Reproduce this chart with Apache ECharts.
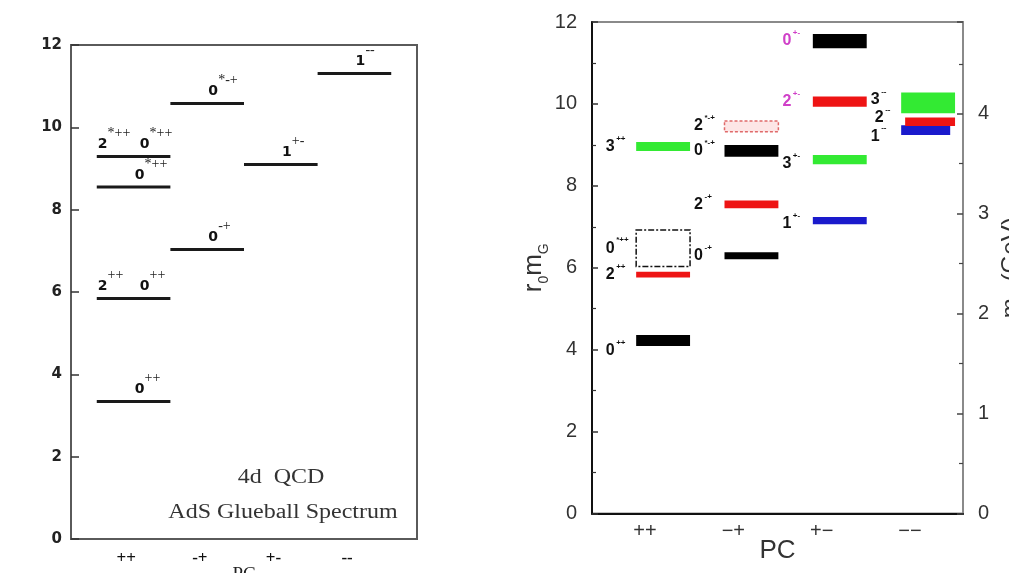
<!DOCTYPE html>
<html><head><meta charset="utf-8">
<script src="https://cdn.jsdelivr.net/npm/echarts@6/dist/echarts.min.js"></script>
<style>html,body{margin:0;padding:0;background:#fff}#c{width:1009px;height:573px}</style>
</head><body><div id="c"></div>
<script>
// ---------- data ----------
const pcCategories = ['++', '-+', '+-', '--'];
const leftTickLabels = ['++', '-+', '+-', '--'];
const rightTickLabels = ['++', '\u2212+', '+\u2212', '\u2212\u2212'];

// AdS glueball spectrum (left panel)
const adsColumn = ['++', '++', '++', '++', '-+', '-+', '+-', '--'];
const adsMass = [3.34, 5.84, 8.55, 9.29, 7.03, 10.58, 9.10, 11.31];
const adsStates = [['0^++'], ['2^++', '0^++'], ['0^*++'], ['2^*++', '0^*++'], ['0^-+'], ['0^*-+'], ['1^+-'], ['1^--']];

// Lattice glueball spectrum (right panel), r0*mG ranges
const latticeColumn = ['++', '++', '++', '++', '-+', '-+', '-+', '-+', '+-', '+-', '+-', '+-', '--', '--', '--'];
const latticeLow  = [4.09, 5.76, 6.03, 8.85, 6.21, 7.45, 8.71, 9.32, 7.06, 8.53, 9.93, 11.36, 9.24, 9.46, 9.77];
const latticeHigh = [4.36, 5.90, 6.92, 9.07, 6.38, 7.64, 9.00, 9.58, 7.24, 8.75, 10.18, 11.71, 9.48, 9.67, 10.28];
const latticeState = ['0^++', '2^++', '0^*++', '3^++', '0^-+', '2^-+', '0^*-+', '2^*-+', '1^+-', '3^+-', '2^+-', '0^+-', '1^--', '2^--', '3^--'];

const r0PerGeV = 2.44; // r0*m per GeV (right axis conversion)

// ---------- styles ----------
const jColor = { '0': '#000000', '1': '#1a1acc', '2': '#ee1414', '3': '#33ea33' };
const specialBox = {
  '0^*++': { fill: 'none', stroke: '#111', lineDash: [6, 2, 2, 2], lineWidth: 1.5 },
  '2^*-+': { fill: '#fde6e6', stroke: '#e06a6a', lineDash: [3, 2], lineWidth: 1.5 }
};
const labelColor = { '2^+-': '#d040c8', '0^+-': '#d040c8' };
const labelDy = { '0^++': 10, '3^+-': 4, '1^+-': 3, '3^--': -3, '2^--': -4, '1^--': 6, '2^*-+': -1 };
const insetL = { '2^--': 0.045 };
const insetR = { '1^--': 0.055 };

// ---------- render ----------
function renderAds(params, api) {
  const col = api.value(0), m = api.value(1), idx = api.value(2);
  const a = api.coord([col - 0.4, m]);
  const b = api.coord([col + 0.6, m]);
  const cx = (a[0] + b[0]) / 2;
  const children = [{
    type: 'line', shape: { x1: a[0], y1: a[1], x2: b[0], y2: a[1] },
    style: { stroke: '#1a1a1a', lineWidth: 3 }
  }];
  const states = adsStates[idx];
  const dxs = states.length === 1 ? [6] : [-31, 11];
  states.forEach((s, k) => {
    const parts = s.split('^');
    const x = cx + dxs[k], y = a[1] - 12;
    children.push({ type: 'text', style: { text: parts[0], x: x, y: y, align: 'center', verticalAlign: 'middle', font: 'bold 14px "DejaVu Sans"', fill: '#111' } });
    children.push({ type: 'text', style: { text: parts[1], x: x + 5, y: y - 11, align: 'left', verticalAlign: 'middle', font: '14px "Liberation Serif"', fill: '#222' } });
  });
  return { type: 'group', children: children };
}

function renderLattice(params, api) {
  const col = api.value(0), lo = api.value(1), hi = api.value(2), idx = api.value(3);
  const st = latticeState[idx];
  const p1 = api.coord([col - 0.1 + (insetL[st] || 0), hi]);
  const p2 = api.coord([col + 0.51 - (insetR[st] || 0), lo]);
  const box = specialBox[st];
  const j = st.split('^')[0], pc = st.split('^')[1];
  const rectStyle = box
    ? { fill: box.fill, stroke: box.stroke, lineDash: box.lineDash, lineWidth: box.lineWidth }
    : { fill: jColor[j] };
  const cy = (p1[1] + p2[1]) / 2 + (labelDy[st] || 0);
  const lx = p1[0] - 26;
  const lc = labelColor[st] || '#111';
  return {
    type: 'group', children: [
      { type: 'rect', shape: { x: p1[0], y: p1[1], width: p2[0] - p1[0], height: p2[1] - p1[1] }, style: rectStyle },
      { type: 'text', style: { text: j, x: lx, y: cy, align: 'center', verticalAlign: 'middle', font: 'bold 16px "Liberation Sans"', fill: lc } },
      { type: 'text', style: { text: pc, x: lx + 6, y: cy - 8, align: 'left', verticalAlign: 'middle', font: 'bold 8px "Liberation Sans"', fill: lc } }
    ]
  };
}

const chart = echarts.init(document.getElementById('c'), null, { renderer: 'canvas' });
const colIndex = c => pcCategories.indexOf(c) + 1;

chart.setOption({
  animation: false,
  backgroundColor: '#fff',
  grid: [
    { left: 71, top: 45, width: 346, bottom: 34, containLabel: false, outerBoundsMode: 'none', show: true, borderColor: '#5a5a5a', borderWidth: 2 },
    { left: 592, top: 22, width: 371, bottom: 59.5, containLabel: false, outerBoundsMode: 'none', show: true, borderColor: '#8a8a8a', borderWidth: 2 }
  ],
  xAxis: [
    {
      gridIndex: 0, type: 'value', min: 0.25, max: 4.95,
      name: 'PC', nameLocation: 'middle', nameGap: 27, nameMoveOverlap: false,
      nameTextStyle: { fontFamily: 'Liberation Serif', fontSize: 19, color: '#222', verticalAlign: 'top' },
      axisLine: { lineStyle: { color: '#5a5a5a', width: 2 } },
      axisTick: { show: false }, splitLine: { show: false },
      axisLabel: {
        customValues: [1, 2, 3, 4], margin: 11,
        formatter: v => leftTickLabels[Math.round(v) - 1] || '',
        fontFamily: 'Liberation Serif', fontWeight: 'bold', fontSize: 17, color: '#111'
      }
    },
    {
      gridIndex: 1, type: 'value', min: 0.4, max: 4.6,
      name: 'PC', nameLocation: 'middle', nameGap: 24, nameMoveOverlap: false,
      nameTextStyle: { fontFamily: 'Liberation Sans', fontSize: 26, color: '#333', verticalAlign: 'top' },
      axisLine: { lineStyle: { color: '#111', width: 2 } },
      axisTick: { show: false }, splitLine: { show: false },
      axisLabel: {
        customValues: [1, 2, 3, 4], margin: 8,
        formatter: v => rightTickLabels[Math.round(v) - 1] || '',
        fontFamily: 'Liberation Sans', fontSize: 20, color: '#333'
      }
    }
  ],
  yAxis: [
    {
      gridIndex: 0, type: 'value', min: 0, max: 12, interval: 2,
      axisLine: { lineStyle: { color: '#5a5a5a', width: 2 } },
      axisTick: { inside: true, length: 8, lineStyle: { color: '#333', width: 1.5 } },
      splitLine: { show: false },
      axisLabel: { margin: 9, fontFamily: 'DejaVu Sans', fontWeight: 'bold', fontSize: 15, color: '#222' }
    },
    {
      gridIndex: 1, type: 'value', min: 0, max: 12, interval: 2,
      name: '{r|r}{s|0}{r|m}{s|G}', nameLocation: 'middle', nameGap: 44,
      nameTextStyle: {
        rich: {
          r: { fontFamily: 'Liberation Sans', fontSize: 26, color: '#333', lineHeight: 30, verticalAlign: 'bottom' },
          s: { fontFamily: 'Liberation Sans', fontSize: 14, color: '#333', lineHeight: 30, verticalAlign: 'bottom', padding: [0, 0, -4, 0] }
        }
      },
      axisLine: { lineStyle: { color: '#111', width: 2 } },
      axisTick: { inside: true, length: 6, lineStyle: { color: '#333', width: 1.5 } },
      minorTick: { show: true, splitNumber: 2, length: 4, lineStyle: { color: '#333', width: 1.2 } },
      splitLine: { show: false }, minorSplitLine: { show: false },
      axisLabel: { margin: 15, fontFamily: 'Liberation Sans', fontSize: 20, color: '#333' }
    },
    {
      gridIndex: 1, type: 'value', position: 'right', min: 0, max: 12 / r0PerGeV, interval: 1, alignTicks: false,
      name: '{r|m}{s|G}{r| (GeV)}', nameLocation: 'middle', nameGap: 32,
      nameTextStyle: {
        rich: {
          r: { fontFamily: 'Liberation Sans', fontSize: 24, color: '#333', lineHeight: 28, verticalAlign: 'bottom' },
          s: { fontFamily: 'Liberation Sans', fontSize: 13, color: '#333', lineHeight: 28, verticalAlign: 'bottom', padding: [0, 0, -4, 0] }
        }
      },
      axisLine: { lineStyle: { color: '#8a8a8a', width: 2 } },
      axisTick: { inside: true, length: 6, lineStyle: { color: '#444', width: 1.5 } },
      minorTick: { show: true, splitNumber: 2, length: 4, lineStyle: { color: '#444', width: 1.2 } },
      splitLine: { show: false }, minorSplitLine: { show: false },
      axisLabel: {
        margin: 15, fontFamily: 'Liberation Sans', fontSize: 20, color: '#333', showMaxLabel: false,
        formatter: v => (Math.abs(v - Math.round(v)) < 1e-6 ? String(Math.round(v)) : '')
      }
    }
  ],
  graphic: [
    { type: 'text', x: 281, y: 478, scaleX: 1.2, style: { text: '4d  QCD', x: 0, y: 0, align: 'center', verticalAlign: 'middle', font: '20px "Liberation Serif"', fill: '#333' } },
    { type: 'text', x: 283, y: 513, scaleX: 1.2, style: { text: 'AdS Glueball Spectrum', x: 0, y: 0, align: 'center', verticalAlign: 'middle', font: '20px "Liberation Serif"', fill: '#333' } }
  ],
  series: [
    {
      type: 'custom', xAxisIndex: 0, yAxisIndex: 0, renderItem: renderAds,
      data: adsColumn.map((c, i) => [colIndex(c), adsMass[i], i]), clip: false
    },
    {
      type: 'custom', xAxisIndex: 1, yAxisIndex: 1, renderItem: renderLattice,
      data: latticeColumn.map((c, i) => [colIndex(c), latticeLow[i], latticeHigh[i], i]), clip: false
    }
  ]
});
</script>
</body></html>
